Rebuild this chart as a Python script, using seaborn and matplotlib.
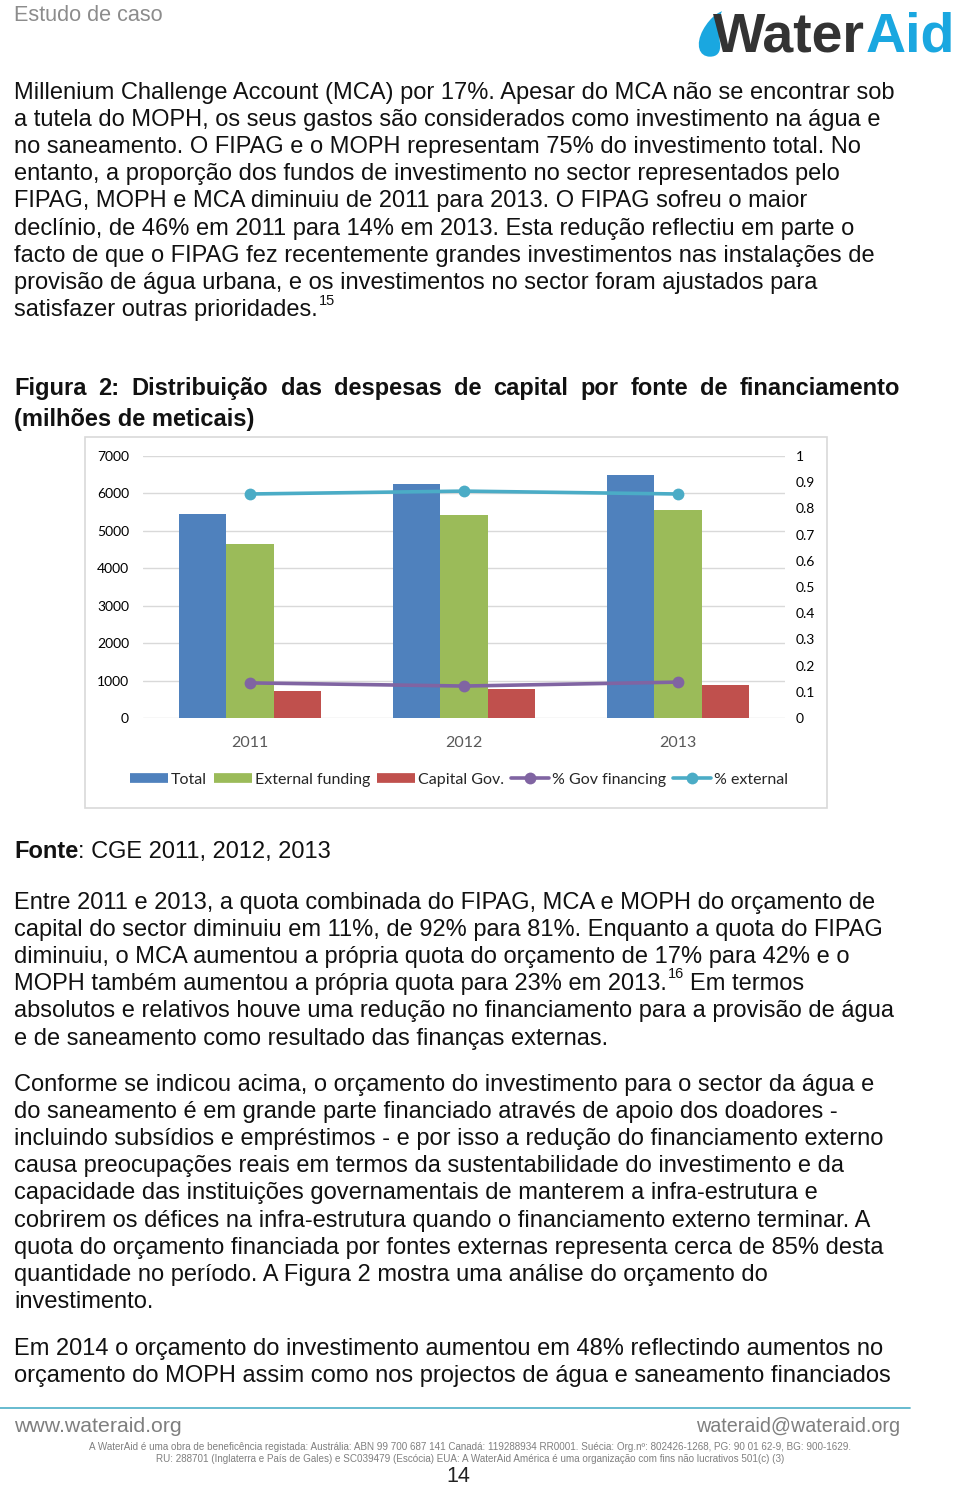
import numpy as np
import pandas as pd
import seaborn as sns
import matplotlib.pyplot as plt
from matplotlib.lines import Line2D
from matplotlib.patches import Rectangle, PathPatch
from matplotlib.path import Path

# chart data (milhoes de meticais)
years = ["2011", "2012", "2013"]
total = [5450, 6250, 6490]
external = [4650, 5420, 5560]
capital_gov = [720, 775, 880]
pct_gov = [0.134, 0.122, 0.137]
pct_external = [0.855, 0.866, 0.855]

bar_names = ["Total", "External funding", "Capital Gov."]
line_names = ["% Gov financing", "% external"]
bar_colors = ["#4F81BD", "#9BBB59", "#C0504D"]
line_colors = ["#8064A2", "#4BACC6"]

left_ticks = [0, 1000, 2000, 3000, 4000, 5000, 6000, 7000]
right_labels = ["0", "0.1", "0.2", "0.3", "0.4", "0.5", "0.6", "0.7", "0.8", "0.9", "1"]

para1 = [
    "Millenium Challenge Account (MCA) por 17%. Apesar do MCA não se encontrar sob",
    "a tutela do MOPH, os seus gastos são considerados como investimento na água e",
    "no saneamento. O FIPAG e o MOPH representam 75% do investimento total. No",
    "entanto, a proporção dos fundos de investimento no sector representados pelo",
    "FIPAG, MOPH e MCA diminuiu de 2011 para 2013. O FIPAG sofreu o maior",
    "declínio, de 46% em 2011 para 14% em 2013. Esta redução reflectiu em parte o",
    "facto de que o FIPAG fez recentemente grandes investimentos nas instalações de",
    "provisão de água urbana, e os investimentos no sector foram ajustados para",
    "satisfazer outras prioridades.",
]
title_line1 = "Figura 2: Distribuição das despesas de capital por fonte de financiamento"
title_line2 = "(milhões de meticais)"
para2 = [
    "Entre 2011 e 2013, a quota combinada do FIPAG, MCA e MOPH do orçamento de",
    "capital do sector diminuiu em 11%, de 92% para 81%. Enquanto a quota do FIPAG",
    "diminuiu, o MCA aumentou a própria quota do orçamento de 17% para 42% e o",
    "MOPH também aumentou a própria quota para 23% em 2013.",
    "absolutos e relativos houve uma redução no financiamento para a provisão de água",
    "e de saneamento como resultado das finanças externas.",
]
para3 = [
    "Conforme se indicou acima, o orçamento do investimento para o sector da água e",
    "do saneamento é em grande parte financiado através de apoio dos doadores -",
    "incluindo subsídios e empréstimos - e por isso a redução do financiamento externo",
    "causa preocupações reais em termos da sustentabilidade do investimento e da",
    "capacidade das instituições governamentais de manterem a infra-estrutura e",
    "cobrirem os défices na infra-estrutura quando o financiamento externo terminar. A",
    "quota do orçamento financiada por fontes externas representa cerca de 85% desta",
    "quantidade no período. A Figura 2 mostra uma análise do orçamento do",
    "investimento.",
]
para4 = [
    "Em 2014 o orçamento do investimento aumentou em 48% reflectindo aumentos no",
    "orçamento do MOPH assim como nos projectos de água e saneamento financiados",
]
footer_small = [
    "A WaterAid é uma obra de beneficência registada: Austrália: ABN 99 700 687 141 Canadá: 119288934 RR0001. "
    "Suécia: Org.nº: 802426-1268, PG: 90 01 62-9, BG: 900-1629.",
    "RU: 288701 (Inglaterra e País de Gales) e SC039479 (Escócia) EUA: A WaterAid América é uma "
    "organização com fins não lucrativos 501(c) (3)",
]

sns.set_style("white")
plt.rcParams["font.family"] = ["Liberation Sans", "DejaVu Sans"]

W, H = 960, 1488
fig = plt.figure(figsize=(W / 100, H / 100), dpi=100)
renderer = fig.canvas.get_renderer()


def fx(x):
    return x / W


def fy(y):
    return 1 - y / H


def width_px(t):
    return t.get_window_extent(renderer).width


BODY = 17
INK = "#111111"


def body_lines(lines, y0, step=27.1):
    out = []
    for i, s in enumerate(lines):
        out.append(fig.text(fx(14), fy(y0 + i * step), s, fontsize=BODY, color=INK, va="baseline"))
    return out


# header
fig.text(fx(14), fy(21), "Estudo de caso", fontsize=15.6, color="#8C8C8C", va="baseline")
drop = Path(
    [(0.0, 0.0), (-0.55, 0.0), (-0.75, 0.45), (-0.35, 1.0),
     (0.05, 1.55), (0.55, 1.7), (0.6, 1.7),
     (0.35, 1.35), (0.45, 0.85), (0.5, 0.5),
     (0.55, 0.15), (0.35, 0.0), (0.0, 0.0)],
    [Path.MOVETO, Path.CURVE4, Path.CURVE4, Path.CURVE4,
     Path.CURVE4, Path.CURVE4, Path.LINETO,
     Path.CURVE4, Path.CURVE4, Path.CURVE4,
     Path.CURVE4, Path.CURVE4, Path.CURVE4],
)
logo_ax = fig.add_axes([fx(690), fy(62), fx(40), 56 / H])
logo_ax.set_xlim(-1, 1)
logo_ax.set_ylim(-0.2, 1.9)
logo_ax.axis("off")
logo_ax.add_patch(PathPatch(drop, facecolor="#1AA7E0", edgecolor="none"))
water = fig.text(fx(713), fy(52), "Water", fontsize=40, fontweight="bold", color="#333333",
                 va="baseline")
fig.text(fx(713 + width_px(water) + 1), fy(52), "Aid", fontsize=40, fontweight="bold",
         color="#1AA7E0", va="baseline")

# first paragraph
p1 = body_lines(para1, 99)
fig.text(fx(14 + width_px(p1[-1]) + 1), fy(305), "15", fontsize=10.5, color=INK, va="baseline")

# justified figure title
words = title_line1.split(" ")
tmp = [fig.text(0, 0, w, fontsize=BODY, fontweight="bold") for w in words]
widths = [width_px(t) for t in tmp]
for t in tmp:
    t.remove()
gap = (900 - 14 - sum(widths)) / (len(words) - 1)
xpos = 14
for w, wd in zip(words, widths):
    fig.text(fx(xpos), fy(395), w, fontsize=BODY, fontweight="bold", color=INK, va="baseline")
    xpos += wd + gap
fig.text(fx(14), fy(426), title_line2, fontsize=BODY, fontweight="bold", color=INK, va="baseline")

# chart frame (behind the axes)
fig.patches.append(Rectangle((fx(85), fy(808)), fx(827) - fx(85), fy(437) - fy(808),
                             transform=fig.transFigure, facecolor="white",
                             edgecolor="#D9D9D9", linewidth=1.2, zorder=-5))

# chart
df = pd.DataFrame({
    "year": years * 3,
    "value": total + external + capital_gov,
    "series": np.repeat(bar_names, len(years)),
})
ax = fig.add_axes([fx(143), fy(718), fx(785) - fx(143), (718 - 456) / H])
ax.set_facecolor("none")
sns.barplot(data=df, x="year", y="value", hue="series", hue_order=bar_names,
            palette=bar_colors, saturation=1, width=0.66, gap=0, linewidth=0,
            legend=False, ax=ax)
ax.set_xlim(-0.5, len(years) - 0.5)
ax.set_ylim(0, 7000)
ax.set_yticks(left_ticks)
ax.set_yticklabels([str(v) for v in left_ticks], fontsize=10, family="Lato", color="#000000")
ax.set_xticks(range(len(years)))
ax.set_xticklabels(years, fontsize=11.5, family="Lato", color="#595959")
ax.tick_params(axis="x", length=0, pad=13)
ax.tick_params(axis="y", length=0, pad=10)
ax.set_xlabel("")
ax.set_ylabel("")
ax.grid(axis="y", color="#D9D9D9", linewidth=1)
ax.set_axisbelow(True)
for side in ["top", "left", "right", "bottom"]:
    ax.spines[side].set_visible(False)

ax2 = ax.twinx()
pos = np.arange(len(years))
for vals, col in zip([pct_gov, pct_external], line_colors):
    sns.lineplot(x=pos, y=vals, color=col, linewidth=2.6, marker="o", markersize=8.5,
                 markeredgewidth=0, ax=ax2)
ax2.set_ylim(0, 1)
ax2.set_yticks(np.linspace(0, 1, len(right_labels)))
ax2.set_yticklabels(right_labels, fontsize=10, family="Lato", color="#000000")
ax2.tick_params(axis="y", length=0, pad=7.5)
ax2.grid(False)
for side in ["top", "left", "right", "bottom"]:
    ax2.spines[side].set_visible(False)

handles = [Line2D([0], [0], color=c, linewidth=7, solid_capstyle="butt") for c in bar_colors]
handles += [Line2D([0], [0], color=c, linewidth=2.6, marker="o", markersize=8.5,
                   markeredgewidth=0) for c in line_colors]
fig.legend(handles, bar_names + line_names, loc="center", bbox_to_anchor=(fx(459), fy(780)),
           ncol=5, frameon=False, prop={"family": "Lato", "size": 11.5},
           handlelength=2.4, handletextpad=0.2, columnspacing=0.4)

# source and following paragraphs
fonte = fig.text(fx(14), fy(858), "Fonte", fontsize=BODY, fontweight="bold", color=INK,
                 va="baseline")
fig.text(fx(14 + width_px(fonte)), fy(858), ": CGE 2011, 2012, 2013", fontsize=BODY,
         color=INK, va="baseline")
p2 = body_lines(para2, 909)
sup_x = 14 + width_px(p2[3]) + 1
sup = fig.text(fx(sup_x), fy(978), "16", fontsize=10.5, color=INK, va="baseline")
fig.text(fx(sup_x + width_px(sup) + 6), fy(990), "Em termos", fontsize=BODY, color=INK,
         va="baseline")
body_lines(para3, 1091)
body_lines(para4, 1355)

# footer
fig.add_artist(Line2D([0, fx(910)], [fy(1408), fy(1408)], color="#5BB5CC", linewidth=1.3))
fig.text(fx(14), fy(1432), "www.wateraid.org", fontsize=15.3, color="#7F7F7F", va="baseline")
fig.text(fx(900), fy(1432), "wateraid@wateraid.org", fontsize=14.2, color="#7F7F7F",
         va="baseline", ha="right")
fig.text(fx(470), fy(1450), footer_small[0], fontsize=7.1, color="#7F7F7F",
         va="baseline", ha="center")
fig.text(fx(470), fy(1462), footer_small[1], fontsize=7.1, color="#7F7F7F",
         va="baseline", ha="center")
fig.text(fx(458), fy(1487), "14", fontsize=15.5, color="#222222", va="bottom", ha="center")

fig.savefig("out.png", dpi=100)
